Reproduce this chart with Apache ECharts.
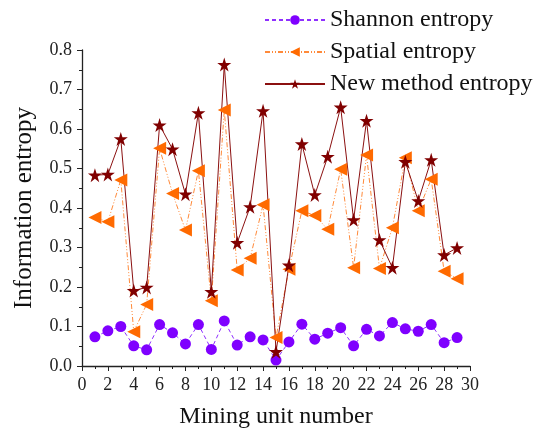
<!DOCTYPE html>
<html>
<head>
<meta charset="utf-8">
<script src="https://cdn.jsdelivr.net/npm/echarts@6/dist/echarts.min.js"></script>
<style>html,body{margin:0;padding:0;background:#fff;}#c{width:550px;height:433px;}</style>
</head>
<body>
<div id="c"></div>
<script>
const units = [1,2,3,4,5,6,7,8,9,10,11,12,13,14,15,16,17,18,19,20,21,22,23,24,25,26,27,28,29];
const shannon = [0.074,0.089,0.100,0.051,0.041,0.105,0.084,0.056,0.105,0.042,0.114,0.053,0.074,0.066,0.015,0.061,0.106,0.068,0.083,0.097,0.051,0.093,0.076,0.110,0.094,0.088,0.105,0.059,0.072];
const spatial = [0.376,0.365,0.471,0.087,0.156,0.551,0.437,0.344,0.494,0.165,0.648,0.243,0.273,0.408,0.072,0.245,0.393,0.381,0.346,0.498,0.249,0.534,0.247,0.350,0.527,0.393,0.473,0.240,0.221];
const newMethod = [0.483,0.485,0.575,0.191,0.199,0.610,0.549,0.435,0.641,0.188,0.763,0.312,0.403,0.646,0.036,0.255,0.562,0.433,0.530,0.655,0.370,0.621,0.319,0.249,0.517,0.418,0.522,0.281,0.299];
const seriesNames = ['Shannon entropy','Spatial entropy','New method entropy'];
const xTitle = 'Mining unit number';
const yTitle = 'Information entropy';

const FONT = 'Liberation Serif';
const STAR = 'path://M50,0 L61.8,36.2 L100,36.2 L69.1,58.6 L80.9,95.1 L50,72.4 L19.1,95.1 L30.9,58.6 L0,36.2 L38.2,36.2 Z';
const TRI_LEFT = 'path://M0,50 L100,0 L100,100 Z';

function pairs(vals){ return units.map((u,i)=>[u, vals[i]]); }

const chart = echarts.init(document.getElementById('c'), null, {renderer:'canvas'});
chart.setOption({
  animation:false,
  backgroundColor:'#fff',
  textStyle:{fontFamily:FONT},
  grid:{left:82,right:80,top:50,bottom:67,containLabel:false,outerBoundsMode:'none'},
  legend:{
    orient:'vertical', left:259, top:3, itemWidth:60, itemHeight:12, itemGap:8,
    textStyle:{fontFamily:FONT,fontSize:24,color:'#111'},
    data:seriesNames
  },
  xAxis:{
    type:'value', min:0, max:30, interval:2,
    name:xTitle, nameLocation:'middle', nameGap:39,
    nameTextStyle:{fontFamily:FONT,fontSize:24,color:'#111'},
    axisLine:{show:true,onZero:false,lineStyle:{color:'#222',width:1.3}},
    axisTick:{show:true,inside:false,length:5,lineStyle:{color:'#222'}},
    minorTick:{show:true,splitNumber:2,length:3,lineStyle:{color:'#222'}},
    axisLabel:{fontFamily:FONT,fontSize:18,color:'#222',margin:10},
    splitLine:{show:false}
  },
  yAxis:{
    type:'value', min:0, max:0.8, interval:0.1,
    name:yTitle, nameLocation:'middle', nameGap:45, nameRotate:90,
    nameTextStyle:{fontFamily:FONT,fontSize:25,color:'#111'},
    axisLine:{show:true,lineStyle:{color:'#222',width:1.3}},
    axisTick:{show:true,inside:false,length:5,lineStyle:{color:'#222'}},
    minorTick:{show:true,splitNumber:2,length:3,lineStyle:{color:'#222'}},
    axisLabel:{fontFamily:FONT,fontSize:18,color:'#222',margin:10,formatter:v=>v.toFixed(1)},
    splitLine:{show:false}
  },
  series:[
    {name:seriesNames[0],type:'line',data:pairs(shannon),symbol:'circle',symbolSize:11,
     itemStyle:{color:'#7f00ff'},lineStyle:{color:'#8f2fff',width:1,type:[4,3]}},
    {name:seriesNames[1],type:'line',data:pairs(spatial),symbol:TRI_LEFT,symbolSize:[13,13],
     itemStyle:{color:'#ff6a00'},lineStyle:{color:'#ff8a3a',width:1,type:[5,2,1,2,1,2]}},
    {name:seriesNames[2],type:'line',data:pairs(newMethod),symbol:STAR,symbolSize:14,
     itemStyle:{color:'#800000'},lineStyle:{color:'#8b1010',width:1,type:'solid'}}
  ]
});
</script>
</body>
</html>
